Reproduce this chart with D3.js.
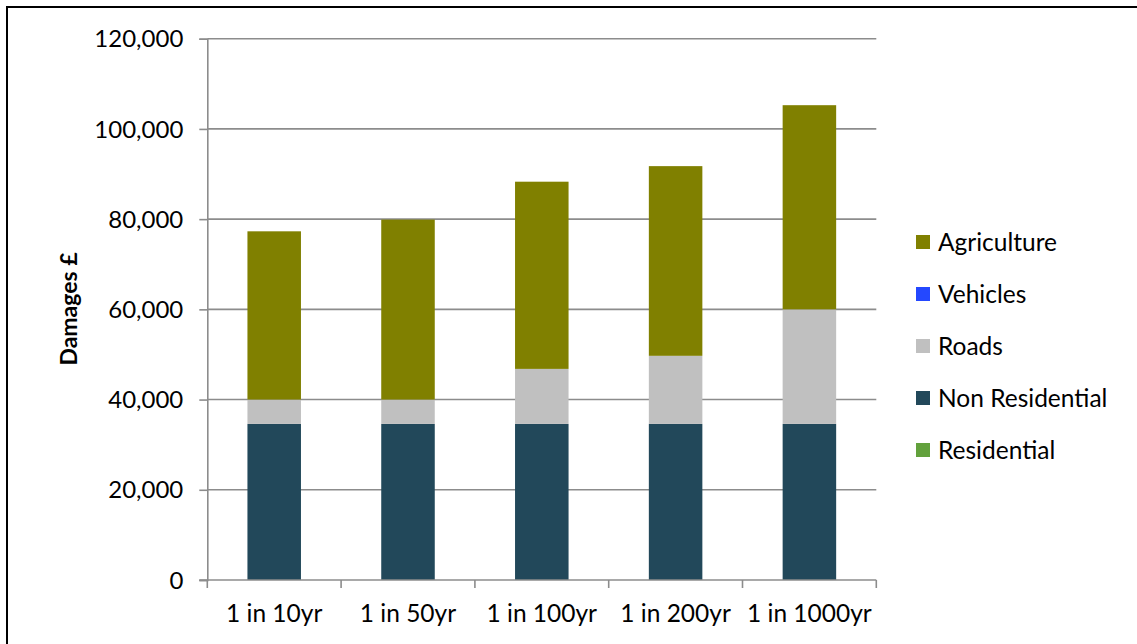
<!DOCTYPE html>
<html><head><meta charset="utf-8">
<script src="https://cdn.jsdelivr.net/npm/d3@7"></script>
<style>
html,body{margin:0;padding:0;background:#fff;}
svg{display:block;}
text{font-family:Lato, "Open Sans", sans-serif;fill:#000;}
</style></head>
<body>
<svg id="chart" width="1137" height="644"></svg>
<script>
const categories = ["1 in 10yr","1 in 50yr","1 in 100yr","1 in 200yr","1 in 1000yr"];
const residential = [0,0,0,0,0];
const nonResidential = [34600,34600,34600,34600,34600];
const roads = [5400,5400,12200,15100,25400];
const vehicles = [0,0,0,0,0];
const agriculture = [37300,39900,41500,42050,45260];
const seriesNames = ["Residential","Non Residential","Roads","Vehicles","Agriculture"];
const seriesColors = ["#62a13c","#22485a","#c0c0c0","#2448ff","#808000"];
const yTicks = [0,20000,40000,60000,80000,100000,120000];

const svg = d3.select("#chart");
// outer frame
svg.append("rect").attr("x",7).attr("y",7).attr("width",1140).attr("height",650)
  .attr("fill","none").attr("stroke","#000").attr("stroke-width",2);

const x0 = 207.3, x1 = 876.3, yTop = 38.7, yBot = 580;
const x = d3.scaleBand().domain(categories).range([x0,x1]).paddingInner(0.6).paddingOuter(0.3);
const y = d3.scaleLinear().domain([0,120000]).range([yBot,yTop]);

const rows = categories.map((c,i)=>({cat:c,"Residential":residential[i],"Non Residential":nonResidential[i],"Roads":roads[i],"Vehicles":vehicles[i],"Agriculture":agriculture[i]}));
const stacked = d3.stack().keys(seriesNames)(rows);

// gridlines
svg.append("g").selectAll("line").data(yTicks.filter(d=>d>0)).join("line")
  .attr("x1",x0).attr("x2",x1).attr("y1",d=>y(d)).attr("y2",d=>y(d))
  .attr("stroke","#8c8c8c").attr("stroke-width",1.6);

// bars
svg.append("g").selectAll("g").data(stacked).join("g")
  .attr("fill",(d,i)=>seriesColors[i])
  .selectAll("rect").data(d=>d).join("rect")
  .attr("x",d=>x(d.data.cat)).attr("width",x.bandwidth())
  .attr("y",d=>y(d[1])).attr("height",d=>Math.max(0,y(d[0])-y(d[1])));

// y axis
const yAxis = d3.axisLeft(y).tickValues(yTicks).tickSize(8).tickPadding(16)
  .tickFormat(d3.format(","));
const gy = svg.append("g").attr("transform",`translate(${x0},0)`).call(yAxis);
gy.select(".domain").attr("stroke","#8c8c8c").attr("stroke-width",1.6);
gy.selectAll(".tick line").attr("stroke","#8c8c8c").attr("stroke-width",1.6);
gy.selectAll(".tick text").attr("font-size",24).attr("font-family","Lato").attr("dy","0.34em");

// x axis
const gx = svg.append("g").attr("transform",`translate(0,${yBot})`);
gx.append("line").attr("x1",x0-8).attr("x2",x1).attr("y1",0).attr("y2",0)
  .attr("stroke","#8c8c8c").attr("stroke-width",1.6);
const bounds = d3.range(categories.length+1).map(i=>x0+i*(x1-x0)/categories.length);
gx.selectAll("line.tk").data(bounds).join("line").attr("class","tk")
  .attr("x1",d=>d).attr("x2",d=>d).attr("y1",0).attr("y2",8)
  .attr("stroke","#8c8c8c").attr("stroke-width",1.6);
gx.selectAll("text").data(categories).join("text")
  .attr("x",d=>x(d)+x.bandwidth()/2).attr("y",42)
  .attr("text-anchor","middle").attr("font-size",24.5).text(d=>d);

// y title
svg.append("text").attr("transform","translate(77,309) rotate(-90)")
  .attr("text-anchor","middle").attr("font-size",23).attr("font-weight","bold")
  .text("Damages £");

// legend
const legendOrder = ["Agriculture","Vehicles","Roads","Non Residential","Residential"];
const lg = svg.append("g").selectAll("g").data(legendOrder).join("g")
  .attr("transform",(d,i)=>`translate(916,${242+i*52})`);
lg.append("rect").attr("x",0).attr("y",-7).attr("width",14).attr("height",14)
  .attr("fill",d=>seriesColors[seriesNames.indexOf(d)]);
lg.append("text").attr("x",22).attr("y",0).attr("dy","0.36em").attr("font-size",24.5).text(d=>d);
</script>
</body></html>
